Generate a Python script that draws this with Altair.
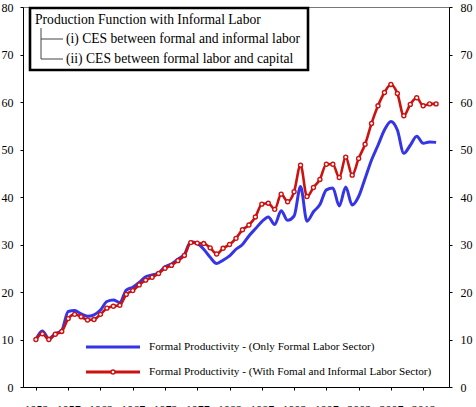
import altair as alt
import pandas as pd

# Annual series, 1952-2014
years = list(range(1952, 2015))

formal_only = [
    10.0, 11.8, 10.2, 11.2, 11.9, 15.9, 16.1, 15.4, 14.9, 15.2,
    16.2, 18.0, 18.3, 17.8, 20.4, 21.0, 22.0, 23.2, 23.6, 24.0,
    25.3, 25.9, 26.9, 27.9, 30.6, 30.2, 29.0, 27.3, 26.0, 26.7,
    27.6, 29.0, 30.0, 31.8, 33.3, 34.8, 35.8, 34.2, 37.1, 35.1,
    36.0, 42.2, 34.9, 36.9, 38.4, 41.5, 41.9, 38.1, 42.1, 38.3,
    40.1, 43.9, 47.8, 50.9, 54.1, 55.9, 54.1, 49.2, 50.9, 52.8,
    51.3, 51.6, 51.5,
]

formal_informal = [
    10.0, 11.2, 10.0, 11.1, 11.7, 14.4, 15.3, 14.8, 14.1, 14.2,
    15.3, 16.6, 17.0, 17.2, 19.5, 20.3, 21.5, 22.5, 23.1, 23.9,
    25.0, 25.6, 26.6, 27.7, 30.4, 30.3, 30.2, 29.3, 28.0, 29.2,
    30.0, 31.3, 33.1, 34.1, 35.8, 38.5, 38.7, 37.4, 40.6, 39.0,
    41.1, 46.7, 40.1, 42.0, 43.7, 46.9, 46.9, 44.1, 48.4, 44.6,
    48.1, 51.1, 55.5, 59.2, 62.0, 63.7, 61.8, 57.1, 59.5, 60.9,
    59.2, 59.6, 59.6,
]

x_ticks = list(range(1952, 2013, 5))
y_ticks = list(range(0, 81, 10))

box_title = "Production Function with Informal Labor"
box_items = [
    "(i) CES between formal and informal labor",
    "(ii) CES between formal labor and capital",
]
series_labels = [
    "Formal Productivity - (Only Formal Labor Sector)",
    "Formal Productivity - (With Fomal and Informal Labor Sector)",
]

SERIF = "Liberation Serif"
BLUE = "#3535e8"
RED = "#cc1111"

df = pd.DataFrame({"year": years, "only": formal_only, "with": formal_informal})
one = pd.DataFrame({"k": [0]})

x_enc = alt.X(
    "year:Q",
    scale=alt.Scale(domain=[1950, 2016], nice=False, zero=False),
    axis=alt.Axis(values=x_ticks, format="d", title=None, grid=False,
                  tickSize=3, labelPadding=14, domainColor="black",
                  tickColor="black", labelColor="black",
                  labelFont=SERIF, labelFontSize=12),
)
y_scale = alt.Scale(domain=[0, 80], nice=False, zero=True)


def y_axis(orient, pad):
    return alt.Axis(orient=orient, values=y_ticks, title=None, grid=False,
                    tickSize=3, labelPadding=pad, domainColor="black",
                    tickColor="black", labelColor="black",
                    labelFont=SERIF, labelFontSize=12)


blue_line = alt.Chart(df).mark_line(
    color=BLUE, strokeWidth=3, interpolate="monotone"
).encode(x=x_enc, y=alt.Y("only:Q", scale=y_scale, axis=y_axis("left", 7)))

red_line = alt.Chart(df).mark_line(
    color=RED, strokeWidth=2.6, interpolate="monotone"
).encode(x=x_enc, y=alt.Y("with:Q", scale=y_scale, axis=y_axis("right", 8)))

red_pts = alt.Chart(df).mark_point(
    shape="circle", filled=True, fill="white", stroke=RED,
    strokeWidth=1.4, size=16, opacity=1
).encode(x=x_enc, y=alt.Y("with:Q", scale=y_scale, axis=None))

# Framed note in the upper-left corner
frame = alt.Chart(one).mark_rect(
    fill="white", stroke="black", strokeWidth=2.6
).encode(x=alt.value(7), x2=alt.value(285), y=alt.value(1), y2=alt.value(63))

note_title = alt.Chart(one).mark_text(
    font=SERIF, fontSize=13.6, align="left", baseline="alphabetic", color="black"
).encode(x=alt.value(12), y=alt.value(17), text=alt.value(box_title))

note_items = [
    alt.Chart(one).mark_text(
        font=SERIF, fontSize=13.6, align="left", baseline="alphabetic", color="black"
    ).encode(x=alt.value(43), y=alt.value(yy), text=alt.value(t))
    for t, yy in zip(box_items, [36, 56])
]

tree_color = "#444444"
tree = [
    alt.Chart(one).mark_rule(color=tree_color, strokeWidth=1).encode(
        x=alt.value(18), y=alt.value(21), y2=alt.value(52)),
    alt.Chart(one).mark_rule(color=tree_color, strokeWidth=1).encode(
        x=alt.value(18), x2=alt.value(40), y=alt.value(32)),
    alt.Chart(one).mark_rule(color=tree_color, strokeWidth=1).encode(
        x=alt.value(18), x2=alt.value(40), y=alt.value(52)),
]

# Series key at the bottom
key_rows = [340, 365]
key = []
for lab, col, yy in zip(series_labels, [BLUE, RED], key_rows):
    key.append(alt.Chart(one).mark_rule(color=col, strokeWidth=3).encode(
        x=alt.value(63), x2=alt.value(117), y=alt.value(yy)))
    key.append(alt.Chart(one).mark_text(
        font=SERIF, fontSize=11.2, align="left", baseline="middle", color="black"
    ).encode(x=alt.value(126), y=alt.value(yy), text=alt.value(lab)))
key.append(alt.Chart(one).mark_point(
    shape="circle", filled=True, fill="white", stroke=RED,
    strokeWidth=1.4, size=16, opacity=1
).encode(x=alt.value(90), y=alt.value(key_rows[1])))

chart = alt.layer(
    blue_line, red_line, red_pts, frame, note_title, *note_items, *tree, *key
).resolve_axis(y="independent").properties(
    width=426,
    height=380,
    padding={"left": 23, "top": 7, "right": 27, "bottom": 20},
    autosize=alt.AutoSizeParams(type="none"),
).configure_view(stroke="#777777", strokeWidth=1)

chart.save("out.html", embed_options={"renderer": "svg", "actions": False})
